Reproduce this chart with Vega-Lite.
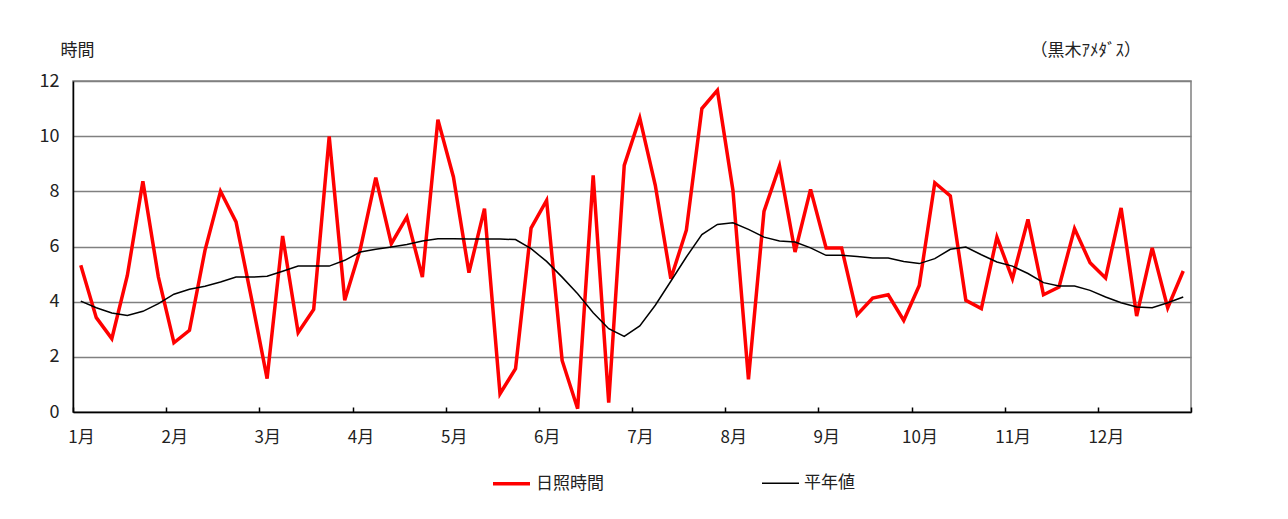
{
  "$schema": "https://vega.github.io/schema/vega-lite/v6.json",
  "autosize": {"type": "none"},
  "width": 1118,
  "height": 331,
  "padding": {"left": 73, "top": 81, "right": 97, "bottom": 107},
  "background": "white",
  "config": {
    "font": "Noto Sans CJK JP",
    "view": {"stroke": "#808080", "strokeWidth": 1.5}
  },
  "title": {
    "text": "（黒木ｱﾒﾀﾞｽ）",
    "anchor": "end",
    "orient": "top",
    "frame": "group",
    "offset": -19,
    "dx": -50,
    "fontSize": 17,
    "fontWeight": "normal",
    "color": "#222222"
  },
  "data": {
    "values": [
      {"p": 1, "日照時間": 5.32, "平年値": 4.02},
      {"p": 2, "日照時間": 3.42, "平年値": 3.78},
      {"p": 3, "日照時間": 2.66, "平年値": 3.59},
      {"p": 4, "日照時間": 4.95, "平年値": 3.5},
      {"p": 5, "日照時間": 8.36, "平年値": 3.65},
      {"p": 6, "日照時間": 4.89, "平年値": 3.93},
      {"p": 7, "日照時間": 2.51, "平年値": 4.27},
      {"p": 8, "日照時間": 2.96, "平年値": 4.45},
      {"p": 9, "日照時間": 5.86, "平年値": 4.56},
      {"p": 10, "日照時間": 8.0, "平年値": 4.71},
      {"p": 11, "日照時間": 6.89, "平年値": 4.89},
      {"p": 12, "日照時間": 4.1, "平年値": 4.89},
      {"p": 13, "日照時間": 1.21, "平年値": 4.92},
      {"p": 14, "日照時間": 6.38, "平年値": 5.1},
      {"p": 15, "日照時間": 2.88, "平年値": 5.29},
      {"p": 16, "日照時間": 3.72, "平年値": 5.29},
      {"p": 17, "日照時間": 9.99, "平年値": 5.29},
      {"p": 18, "日照時間": 4.05, "平年値": 5.5},
      {"p": 19, "日照時間": 5.9, "平年値": 5.8},
      {"p": 20, "日照時間": 8.5, "平年値": 5.9},
      {"p": 21, "日照時間": 6.1, "平年値": 5.98},
      {"p": 22, "日照時間": 7.07, "平年値": 6.07},
      {"p": 23, "日照時間": 4.89, "平年値": 6.2},
      {"p": 24, "日照時間": 10.6, "平年値": 6.28},
      {"p": 25, "日照時間": 8.52, "平年値": 6.28},
      {"p": 26, "日照時間": 5.05, "平年値": 6.27},
      {"p": 27, "日照時間": 7.37, "平年値": 6.27},
      {"p": 28, "日照時間": 0.66, "平年値": 6.27},
      {"p": 29, "日照時間": 1.57, "平年値": 6.25},
      {"p": 30, "日照時間": 6.67, "平年値": 5.92},
      {"p": 31, "日照時間": 7.67, "平年値": 5.46},
      {"p": 32, "日照時間": 1.87, "平年値": 4.89},
      {"p": 33, "日照時間": 0.12, "平年値": 4.29},
      {"p": 34, "日照時間": 8.58, "平年値": 3.6},
      {"p": 35, "日照時間": 0.34, "平年値": 3.02},
      {"p": 36, "日照時間": 8.94, "平年値": 2.74},
      {"p": 37, "日照時間": 10.66, "平年値": 3.12},
      {"p": 38, "日照時間": 8.22, "平年値": 3.87},
      {"p": 39, "日照時間": 4.83, "平年値": 4.74},
      {"p": 40, "日照時間": 6.59, "平年値": 5.62},
      {"p": 41, "日照時間": 11.0, "平年値": 6.43},
      {"p": 42, "日照時間": 11.66, "平年値": 6.8},
      {"p": 43, "日照時間": 8.04, "平年値": 6.86},
      {"p": 44, "日照時間": 1.18, "平年値": 6.62},
      {"p": 45, "日照時間": 7.27, "平年値": 6.34},
      {"p": 46, "日照時間": 8.92, "平年値": 6.2},
      {"p": 47, "日照時間": 5.8, "平年値": 6.16},
      {"p": 48, "日照時間": 8.07, "平年値": 5.95},
      {"p": 49, "日照時間": 5.95, "平年値": 5.68},
      {"p": 50, "日照時間": 5.95, "平年値": 5.68},
      {"p": 51, "日照時間": 3.53, "平年値": 5.64},
      {"p": 52, "日照時間": 4.13, "平年値": 5.58},
      {"p": 53, "日照時間": 4.25, "平年値": 5.58},
      {"p": 54, "日照時間": 3.32, "平年値": 5.46},
      {"p": 55, "日照時間": 4.59, "平年値": 5.38},
      {"p": 56, "日照時間": 8.31, "平年値": 5.56},
      {"p": 57, "日照時間": 7.83, "平年値": 5.9},
      {"p": 58, "日照時間": 4.05, "平年値": 5.98},
      {"p": 59, "日照時間": 3.75, "平年値": 5.7},
      {"p": 60, "日照時間": 6.34, "平年値": 5.44},
      {"p": 61, "日照時間": 4.83, "平年値": 5.29},
      {"p": 62, "日照時間": 6.98, "平年値": 5.02},
      {"p": 63, "日照時間": 4.25, "平年値": 4.69},
      {"p": 64, "日照時間": 4.53, "平年値": 4.57},
      {"p": 65, "日照時間": 6.65, "平年値": 4.57},
      {"p": 66, "日照時間": 5.41, "平年値": 4.41},
      {"p": 67, "日照時間": 4.86, "平年値": 4.17},
      {"p": 68, "日照時間": 7.4, "平年値": 3.96},
      {"p": 69, "日照時間": 3.48, "平年値": 3.81},
      {"p": 70, "日照時間": 5.95, "平年値": 3.78},
      {"p": 71, "日照時間": 3.78, "平年値": 3.96},
      {"p": 72, "日照時間": 5.11, "平年値": 4.17}
    ]
  },
  "transform": [{"fold": ["日照時間", "平年値"], "as": ["series", "v"]}],
  "encoding": {
    "x": {
      "field": "p",
      "type": "quantitative",
      "scale": {"domain": [0.5, 72.5], "nice": false, "zero": false},
      "axis": {
        "values": [0.5, 6.5, 12.5, 18.5, 24.5, 30.5, 36.5, 42.5, 48.5, 54.5, 60.5, 66.5, 72.5],
        "title": null,
        "grid": false,
        "domainColor": "#000000",
        "domainWidth": 1.5,
        "tickColor": "#000000",
        "tickWidth": 1.5,
        "tickSize": -5,
        "labelFontSize": 17,
        "labelColor": "#222222",
        "labelPadding": 22,
        "labelOffset": 8,
        "labelFlush": false,
        "labelOverlap": false,
        "labelExpr": "datum.value < 72 ? (floor(datum.value / 6) + 1) + '月' : ''"
      }
    },
    "y": {
      "field": "v",
      "type": "quantitative",
      "scale": {"domain": [0, 12], "nice": false},
      "axis": {
        "values": [0, 2, 4, 6, 8, 10, 12],
        "title": "時間",
        "titleAngle": 0,
        "titleX": 4,
        "titleY": -31,
        "titleAlign": "center",
        "titleBaseline": "middle",
        "titleFontSize": 17,
        "titleFontWeight": "normal",
        "titleColor": "#222222",
        "ticks": false,
        "labelPadding": 14,
        "labelFontSize": 18,
        "labelColor": "#222222",
        "gridColor": "#808080",
        "gridWidth": 1.5,
        "domainColor": "#000000",
        "domainWidth": 1.5
      }
    },
    "color": {
      "field": "series",
      "type": "nominal",
      "scale": {"domain": ["日照時間", "平年値"], "range": ["#ff0000", "#000000"]},
      "legend": {
        "title": null,
        "orient": "none",
        "legendX": 418,
        "legendY": 382,
        "direction": "horizontal",
        "symbolType": "stroke",
        "symbolSize": 1369,
        "labelFontSize": 17,
        "labelColor": "#222222",
        "labelOffset": 4,
        "columnPadding": 155
      }
    },
    "strokeWidth": {
      "field": "series",
      "type": "nominal",
      "scale": {"domain": ["日照時間", "平年値"], "range": [3.5, 1.5]},
      "legend": {
        "title": null,
        "orient": "none",
        "legendX": 418,
        "legendY": 382,
        "direction": "horizontal",
        "symbolType": "stroke",
        "symbolSize": 1369,
        "labelFontSize": 17,
        "labelColor": "#222222",
        "labelOffset": 4,
        "columnPadding": 155
      }
    }
  },
  "layer": [
    {"transform": [{"filter": "datum.series === '日照時間'"}], "mark": {"type": "line"}},
    {"transform": [{"filter": "datum.series === '平年値'"}], "mark": {"type": "line"}}
  ]
}
